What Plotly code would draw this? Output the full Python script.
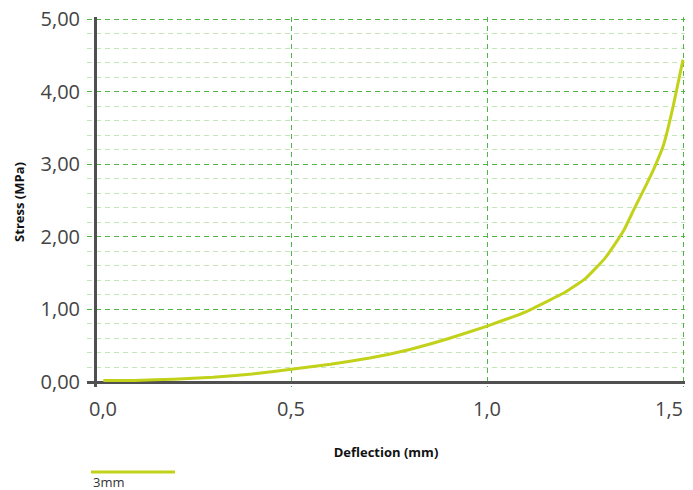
import plotly.graph_objects as go

deflection_mm = [0.02, 0.1, 0.2, 0.3, 0.4, 0.5, 0.6, 0.7, 0.8, 0.9, 1.0, 1.1, 1.2, 1.25,
                 1.3, 1.33, 1.35, 1.375, 1.4, 1.425, 1.45, 1.475, 1.5]
stress_mpa = [0.02, 0.022, 0.038, 0.065, 0.11, 0.175, 0.245, 0.33, 0.445, 0.595, 0.77, 0.97, 1.24, 1.42,
              1.70, 1.93, 2.10, 2.38, 2.65, 2.93, 3.26, 3.80, 4.44]
series_name = "3mm"
x_ticks = [0.0, 0.5, 1.0, 1.5]
x_tick_labels = ["0,0", "0,5", "1,0", "1,5"]
y_ticks = [0, 1, 2, 3, 4, 5]
y_minor_ticks = [v / 5 for v in range(1, 25) if v % 5 != 0]

line_color = "#c2d21a"
major_grid = "#4fb545"
minor_grid = "#c3e5b8"
axis_color = "#505050"
font_family = "Open Sans, Noto Sans, sans-serif"

# The page body has an 8px default margin, so the figure is sized/offset to fit the 693x490 window.
PAGE_OFF = 8
W, H = 693 - PAGE_OFF, 490 - PAGE_OFF
PL, PR, PT, PB = 87 - PAGE_OFF, 685 - PAGE_OFF, 17 - PAGE_OFF, 387 - PAGE_OFF
plot_w, plot_h = PR - PL, PB - PT

fig = go.Figure()
fig.add_trace(go.Scatter(
    x=deflection_mm, y=stress_mpa, mode="lines", name=series_name,
    line=dict(color=line_color, width=3, shape="spline", smoothing=0.3),
    showlegend=False, cliponaxis=False,
))

fig.update_layout(
    width=W, height=H,
    margin=dict(l=PL, r=W - PR, t=PT, b=H - PB, autoexpand=False),
    paper_bgcolor="white", plot_bgcolor="white",
    separators=",.",
    font=dict(family=font_family, color="#444444"),
)

fig.update_xaxes(
    range=[-0.0217, 1.5051], automargin=False,
    tickvals=x_ticks, showticklabels=False,
    showgrid=True, gridcolor=major_grid, griddash="5px,4px", gridwidth=1,
    zeroline=True, zerolinecolor=axis_color, zerolinewidth=3,
    showline=False, ticks="",
    title=dict(text="<b>Deflection (mm)</b>", font=dict(size=13, color="#111111"), standoff=60),
)
fig.update_yaxes(
    range=[-0.0689, 5.0275], automargin=False,
    tickvals=y_ticks, tickformat=".2f", ticklabeloverflow="allow",
    tickfont=dict(size=20, color="#444444"),
    showgrid=True, gridcolor=major_grid, griddash="5px,4px", gridwidth=1,
    minor=dict(tickvals=y_minor_ticks, showgrid=True, gridcolor=minor_grid, griddash="5px,4px", gridwidth=1),
    zeroline=True, zerolinecolor=axis_color, zerolinewidth=3,
    showline=False, ticks="", ticklabelstandoff=6,
    title=dict(text="<b>Stress (MPa)</b>", font=dict(size=13, color="#111111"), standoff=12),
)

# x tick labels (end labels nudged inward, as in the reference)
for i, (v, lab) in enumerate(zip(x_ticks, x_tick_labels)):
    shift = 7 if i == 0 else (-14 if i == len(x_ticks) - 1 else 0)
    fig.add_annotation(text=lab, x=v, xref="x", y=0, yref="paper",
                       xanchor="center", yanchor="middle", yshift=-21, xshift=shift,
                       showarrow=False, font=dict(size=20, color="#444444", family=font_family))

# legend: line sample with the series name below it
fig.add_shape(type="line", xref="paper", yref="paper",
              x0=(91 - 87) / plot_w, x1=(175 - 87) / plot_w,
              y0=-(472 - 387) / plot_h, y1=-(472 - 387) / plot_h,
              line=dict(color=line_color, width=3))
fig.add_annotation(text=series_name, xref="paper", yref="paper",
                   x=(91 - 87) / plot_w, y=-(482 - 387) / plot_h,
                   xanchor="left", yanchor="middle", showarrow=False,
                   font=dict(size=13, color="#333333", family=font_family))

fig.write_html("out.html")
